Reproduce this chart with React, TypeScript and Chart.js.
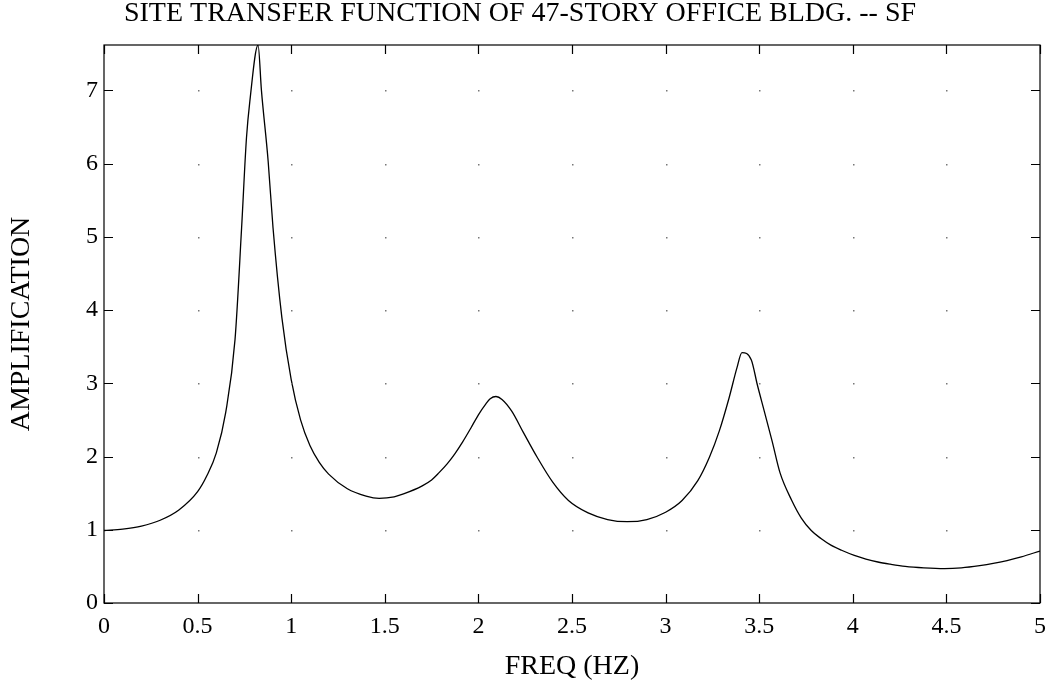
import React, { useEffect, useRef } from "react";
import { Chart, registerables } from "chart.js";

Chart.register(...registerables);

// Frequency (Hz) and amplification of the site transfer function
const freq: number[] = [
  0, 0.1, 0.2, 0.3, 0.4, 0.5, 0.55, 0.6, 0.65, 0.7, 0.735, 0.761, 0.779,
  0.823, 0.841, 0.877, 0.903, 0.95, 1.0, 1.05, 1.1, 1.15, 1.2, 1.3, 1.4,
  1.47, 1.55, 1.6, 1.7, 1.75, 1.79, 1.833, 1.875, 1.916, 1.96, 2.0, 2.04,
  2.063, 2.094, 2.126, 2.178, 2.24, 2.314, 2.397, 2.481, 2.586, 2.69, 2.795,
  2.9, 3.0, 3.088, 3.172, 3.234, 3.287, 3.339, 3.381, 3.408, 3.458, 3.49,
  3.527, 3.569, 3.611, 3.674, 3.725, 3.778, 3.83, 3.883, 3.94, 4.008, 4.07,
  4.134, 4.2, 4.28, 4.38, 4.49, 4.58, 4.678, 4.75, 4.824, 4.9, 5.0,
];
const amplification: number[] = [
  0.99, 1.01, 1.05, 1.13, 1.27, 1.52, 1.74, 2.05, 2.6, 3.6, 5.12, 6.35, 6.85,
  7.62, 7.0, 6.03, 5.12, 3.9, 3.05, 2.5, 2.15, 1.92, 1.76, 1.56, 1.46, 1.43,
  1.45, 1.49, 1.6, 1.68, 1.78, 1.9, 2.04, 2.2, 2.39, 2.57, 2.72, 2.79,
  2.82, 2.78, 2.62, 2.33, 1.99, 1.65, 1.4, 1.23, 1.14, 1.11, 1.14, 1.24,
  1.4, 1.67, 1.99, 2.35, 2.8, 3.21, 3.42, 3.32, 2.98, 2.62, 2.21, 1.78, 1.4,
  1.16, 0.99, 0.88, 0.79, 0.72, 0.65, 0.6, 0.56, 0.53, 0.5, 0.48, 0.47, 0.48,
  0.51, 0.54, 0.58, 0.63, 0.71,
];

const xTicks: number[] = [0, 0.5, 1, 1.5, 2, 2.5, 3, 3.5, 4, 4.5, 5];
const yTicks: number[] = [0, 1, 2, 3, 4, 5, 6, 7];

const titleText = "SITE TRANSFER FUNCTION OF 47-STORY OFFICE BLDG. -- SF";
const xTitle = "FREQ (HZ)";
const yTitle = "AMPLIFICATION";

const FONT = "'Liberation Serif', 'Times New Roman', serif";

// Boxed frame with inward tick marks on all four sides and dots at grid crossings
const framePlugin = {
  id: "frame",
  afterDatasetsDraw(chart: any) {
    const { ctx, chartArea } = chart;
    const xs = chart.scales.x;
    const ys = chart.scales.y;
    const { left, right, top, bottom } = chartArea;
    ctx.save();
    ctx.strokeStyle = "#000";
    ctx.lineWidth = 1.2;
    ctx.strokeRect(left, top, right - left, bottom - top);
    const tl = 9;
    ctx.beginPath();
    xTicks.forEach((v) => {
      const px = Math.round(xs.getPixelForValue(v)) + 0.5;
      ctx.moveTo(px, bottom);
      ctx.lineTo(px, bottom - tl);
      ctx.moveTo(px, top);
      ctx.lineTo(px, top + tl);
    });
    yTicks.forEach((v) => {
      const py = Math.round(ys.getPixelForValue(v)) + 0.5;
      ctx.moveTo(left, py);
      ctx.lineTo(left + tl, py);
      ctx.moveTo(right, py);
      ctx.lineTo(right - tl, py);
    });
    ctx.stroke();
    ctx.fillStyle = "#777";
    xTicks.forEach((xv) => {
      yTicks.forEach((yv) => {
        const px = xs.getPixelForValue(xv);
        const py = ys.getPixelForValue(yv);
        if (px <= left + 2 || px >= right - 2 || py >= bottom - 2 || py <= top + 2) return;
        ctx.fillRect(Math.round(px), Math.round(py), 1.5, 1.5);
      });
    });
    ctx.restore();
  },
};

export default function App() {
  const canvasRef = useRef<HTMLCanvasElement | null>(null);

  useEffect(() => {
    if (!canvasRef.current) return;
    const chart = new Chart(canvasRef.current, {
      type: "line",
      data: {
        datasets: [
          {
            data: freq.map((f, i) => ({ x: f, y: amplification[i] })),
            borderColor: "#000",
            borderWidth: 1.3,
            pointRadius: 0,
            cubicInterpolationMode: "monotone",
            fill: false,
          },
        ],
      },
      options: {
        animation: false,
        responsive: false,
        maintainAspectRatio: false,
        layout: { padding: { left: 0, right: 16, top: 0, bottom: 0 } },
        plugins: {
          legend: { display: false },
          tooltip: { enabled: false },
          title: {
            display: true,
            text: titleText,
            color: "#000",
            font: { family: FONT, size: 28, weight: "normal", lineHeight: 1 },
            padding: { top: 0, bottom: 17 },
          },
        },
        scales: {
          x: {
            type: "linear",
            min: 0,
            max: 5,
            afterFit: (s: any) => {
              s.height = 89;
            },
            afterBuildTicks: (s: any) => {
              s.ticks = xTicks.map((v) => ({ value: v }));
            },
            grid: { display: false, drawTicks: false },
            border: { display: false },
            ticks: {
              color: "#000",
              padding: 9,
              maxRotation: 0,
              autoSkip: false,
              font: { family: FONT, size: 24 },
              callback: (v: any) => String(v),
            },
            title: {
              display: true,
              text: xTitle,
              color: "#000",
              font: { family: FONT, size: 28, lineHeight: 1 },
              padding: { top: 0, bottom: 11 },
            },
          },
          y: {
            type: "linear",
            min: 0,
            max: 7.62,
            afterFit: (s: any) => {
              s.width = 104;
            },
            afterBuildTicks: (s: any) => {
              s.ticks = yTicks.map((v) => ({ value: v }));
            },
            grid: { display: false, drawTicks: false },
            border: { display: false },
            ticks: {
              color: "#000",
              padding: 6,
              autoSkip: false,
              font: { family: FONT, size: 24 },
              callback: (v: any) => String(v),
            },
            title: {
              display: true,
              text: yTitle,
              color: "#000",
              font: { family: FONT, size: 28, lineHeight: 1 },
              padding: { top: 8, bottom: 0 },
            },
          },
        },
      },
      plugins: [framePlugin],
    });
    return () => chart.destroy();
  }, []);

  return (
    <div style={{ position: "absolute", left: 0, top: 0, width: 1056, height: 692, background: "#fff" }}>
      <canvas ref={canvasRef} width={1056} height={692} style={{ display: "block" }} />
    </div>
  );
}
